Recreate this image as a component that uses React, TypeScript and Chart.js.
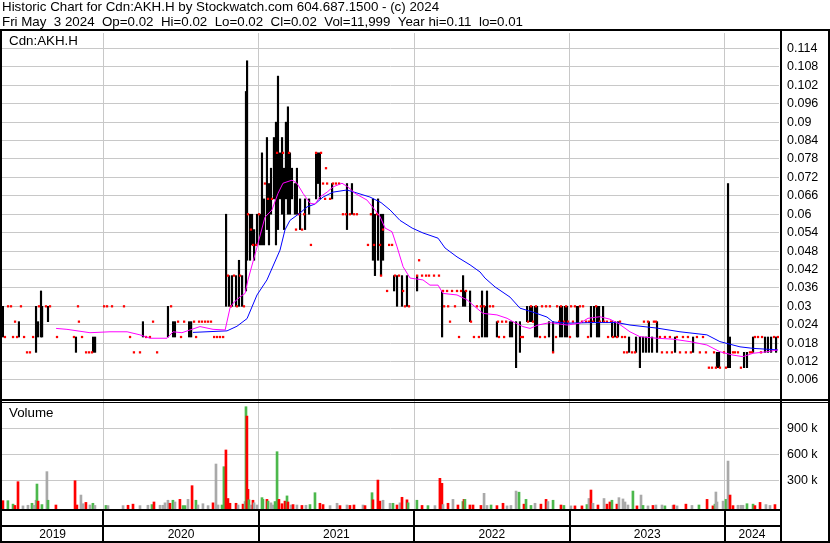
import React, { useEffect, useRef } from 'react';
import { Chart, registerables } from 'chart.js';

Chart.register(...registerables);

const FONT = '"Liberation Sans", Arial, Helvetica, sans-serif';

const headerLines = [
  'Historic Chart for Cdn:AKH.H by Stockwatch.com 604.687.1500 - (c) 2024',
  'Fri May  3 2024  Op=0.02  Hi=0.02  Lo=0.02  Cl=0.02  Vol=11,999  Year hi=0.11  lo=0.01',
];
const symbolLabel = 'Cdn:AKH.H';
const volumeLabel = 'Volume';

// x axis in decimal years
const xStart = 2019.348;
const xEnd = 2024.348;
const yearStarts = [2020, 2021, 2022, 2023, 2024];
const yearLabels = ['2019', '2020', '2021', '2022', '2023', '2024'];

const priceTicks = [0.006, 0.012, 0.018, 0.024, 0.03, 0.036, 0.042, 0.048, 0.054, 0.06, 0.066, 0.072, 0.078, 0.084, 0.09, 0.096, 0.102, 0.108, 0.114];
const priceMin = -0.00085;
const priceMax = 0.11905;
const volumeTicks = [300000, 600000, 900000];
const volumeMin = -31000;
const volumeMax = 1215000;

// [date, high, low]
const priceBars: [number, number, number][] = [
  [2019.354, 0.03, 0.02], [2019.457, 0.025, 0.02], [2019.567, 0.03, 0.015], [2019.58, 0.025, 0.02],
  [2019.599, 0.035, 0.02], [2019.606, 0.03, 0.02], [2019.644, 0.03, 0.025], [2019.824, 0.02, 0.015],
  [2019.934, 0.02, 0.015], [2019.947, 0.02, 0.015], [2020.255, 0.025, 0.02], [2020.416, 0.03, 0.02],
  [2020.449, 0.025, 0.02], [2020.461, 0.025, 0.02], [2020.552, 0.025, 0.02], [2020.565, 0.025, 0.02],
  [2020.79, 0.06, 0.03], [2020.809, 0.04, 0.03], [2020.828, 0.04, 0.03], [2020.854, 0.04, 0.03],
  [2020.873, 0.045, 0.03], [2020.893, 0.04, 0.03], [2020.918, 0.1, 0.035], [2020.925, 0.11, 0.045],
  [2020.944, 0.06, 0.045], [2020.957, 0.06, 0.05], [2020.97, 0.055, 0.045], [2020.989, 0.06, 0.05],
  [2021.008, 0.06, 0.05], [2021.021, 0.08, 0.05], [2021.034, 0.065, 0.05], [2021.053, 0.085, 0.055],
  [2021.066, 0.07, 0.05], [2021.079, 0.075, 0.06], [2021.098, 0.085, 0.065], [2021.111, 0.09, 0.05],
  [2021.124, 0.105, 0.055], [2021.137, 0.08, 0.065], [2021.15, 0.085, 0.06], [2021.163, 0.075, 0.055],
  [2021.175, 0.09, 0.065], [2021.188, 0.095, 0.06], [2021.201, 0.08, 0.06], [2021.214, 0.075, 0.065],
  [2021.233, 0.07, 0.06], [2021.246, 0.075, 0.06], [2021.266, 0.065, 0.055], [2021.298, 0.065, 0.055],
  [2021.324, 0.065, 0.06], [2021.369, 0.08, 0.065], [2021.382, 0.08, 0.07], [2021.394, 0.08, 0.065],
  [2021.472, 0.07, 0.065], [2021.568, 0.07, 0.055], [2021.6, 0.07, 0.06], [2021.735, 0.065, 0.045],
  [2021.748, 0.06, 0.04], [2021.768, 0.065, 0.045], [2021.787, 0.06, 0.04], [2021.8, 0.06, 0.045],
  [2021.871, 0.04, 0.035], [2021.89, 0.04, 0.03], [2021.922, 0.04, 0.03], [2021.954, 0.04, 0.03],
  [2022.019, 0.04, 0.035], [2022.18, 0.035, 0.02], [2022.315, 0.04, 0.03], [2022.328, 0.035, 0.03],
  [2022.36, 0.035, 0.025], [2022.437, 0.035, 0.02], [2022.456, 0.03, 0.02], [2022.469, 0.035, 0.02],
  [2022.533, 0.025, 0.02], [2022.617, 0.025, 0.02], [2022.63, 0.025, 0.02], [2022.656, 0.025, 0.01],
  [2022.681, 0.025, 0.015], [2022.727, 0.03, 0.025], [2022.746, 0.03, 0.025], [2022.759, 0.03, 0.025],
  [2022.778, 0.03, 0.02], [2022.791, 0.03, 0.02], [2022.868, 0.025, 0.02], [2022.894, 0.025, 0.015],
  [2022.939, 0.03, 0.02], [2022.952, 0.03, 0.02], [2022.971, 0.03, 0.02], [2022.984, 0.03, 0.02],
  [2023.048, 0.03, 0.02], [2023.055, 0.03, 0.02], [2023.138, 0.03, 0.02], [2023.158, 0.03, 0.025],
  [2023.177, 0.03, 0.02], [2023.19, 0.03, 0.02], [2023.216, 0.03, 0.025], [2023.274, 0.025, 0.02],
  [2023.293, 0.025, 0.02], [2023.312, 0.025, 0.02], [2023.383, 0.02, 0.015], [2023.428, 0.02, 0.015],
  [2023.453, 0.02, 0.01], [2023.473, 0.02, 0.015], [2023.492, 0.02, 0.015], [2023.511, 0.025, 0.015],
  [2023.531, 0.02, 0.015], [2023.563, 0.025, 0.015], [2023.679, 0.02, 0.015], [2023.795, 0.02, 0.015],
  [2023.949, 0.015, 0.01], [2023.962, 0.015, 0.01], [2024.02, 0.07, 0.01], [2024.032, 0.02, 0.01],
  [2024.123, 0.015, 0.01], [2024.142, 0.015, 0.01], [2024.181, 0.02, 0.015], [2024.258, 0.02, 0.015],
  [2024.277, 0.02, 0.015], [2024.297, 0.02, 0.015], [2024.329, 0.02, 0.015],
];

// [date, price] days with no range
const flatDays: [number, number][] = [
  [2019.367, 0.02], [2019.387, 0.03], [2019.406, 0.03], [2019.419, 0.02], [2019.432, 0.025], [2019.445, 0.02],
  [2019.47, 0.03], [2019.49, 0.02], [2019.509, 0.015], [2019.528, 0.015], [2019.548, 0.02], [2019.586, 0.03],
  [2019.631, 0.03], [2019.657, 0.03], [2019.702, 0.02], [2019.811, 0.02], [2019.837, 0.03], [2019.843, 0.025],
  [2019.863, 0.02], [2019.889, 0.015], [2019.908, 0.015], [2019.927, 0.015],
  [2020.005, 0.03], [2020.024, 0.03], [2020.056, 0.03], [2020.133, 0.03], [2020.172, 0.02], [2020.197, 0.015],
  [2020.236, 0.015], [2020.275, 0.02], [2020.3, 0.02], [2020.32, 0.025], [2020.346, 0.015], [2020.436, 0.03],
  [2020.481, 0.025], [2020.5, 0.02], [2020.52, 0.025], [2020.584, 0.025], [2020.597, 0.02], [2020.616, 0.025],
  [2020.635, 0.025], [2020.655, 0.025], [2020.674, 0.025], [2020.693, 0.025], [2020.713, 0.02], [2020.732, 0.02],
  [2020.751, 0.02], [2020.771, 0.02],
  [2020.802, 0.04], [2020.821, 0.03], [2020.841, 0.04], [2020.86, 0.03], [2020.88, 0.04], [2020.905, 0.03],
  [2020.931, 0.06], [2020.95, 0.055], [2020.963, 0.05], [2020.983, 0.05], [2021.002, 0.06], [2021.04, 0.07],
  [2021.06, 0.065], [2021.085, 0.065], [2021.118, 0.08], [2021.156, 0.08], [2021.195, 0.08], [2021.24, 0.055],
  [2021.259, 0.06], [2021.279, 0.055], [2021.292, 0.06], [2021.336, 0.05], [2021.369, 0.08], [2021.401, 0.08],
  [2021.414, 0.07], [2021.427, 0.065], [2021.433, 0.075], [2021.44, 0.07], [2021.459, 0.065], [2021.478, 0.07],
  [2021.497, 0.07], [2021.517, 0.07], [2021.542, 0.06], [2021.561, 0.06], [2021.587, 0.06], [2021.613, 0.06],
  [2021.632, 0.06], [2021.703, 0.05], [2021.722, 0.06], [2021.742, 0.05], [2021.761, 0.06], [2021.781, 0.05],
  [2021.787, 0.04], [2021.8, 0.055], [2021.826, 0.035], [2021.839, 0.05], [2021.858, 0.05], [2021.877, 0.04],
  [2021.903, 0.04], [2021.929, 0.035], [2021.941, 0.03], [2021.967, 0.03],
  [2022.019, 0.04], [2022.032, 0.045], [2022.051, 0.04], [2022.077, 0.04], [2022.096, 0.04], [2022.128, 0.04],
  [2022.16, 0.04], [2022.186, 0.035], [2022.193, 0.03], [2022.212, 0.035], [2022.219, 0.03], [2022.231, 0.025],
  [2022.244, 0.035], [2022.263, 0.03], [2022.276, 0.035], [2022.289, 0.02], [2022.302, 0.035], [2022.334, 0.035],
  [2022.366, 0.025], [2022.385, 0.02], [2022.404, 0.03], [2022.417, 0.02], [2022.43, 0.03], [2022.45, 0.03],
  [2022.488, 0.03], [2022.508, 0.03], [2022.54, 0.025], [2022.546, 0.02], [2022.566, 0.025], [2022.579, 0.02],
  [2022.592, 0.025], [2022.688, 0.02], [2022.7, 0.02], [2022.733, 0.025], [2022.752, 0.03], [2022.765, 0.025],
  [2022.784, 0.03], [2022.81, 0.02], [2022.823, 0.03], [2022.842, 0.02], [2022.849, 0.03], [2022.874, 0.03],
  [2022.894, 0.015], [2022.913, 0.02], [2022.92, 0.03], [2022.933, 0.025], [2022.945, 0.03], [2022.965, 0.025],
  [2022.978, 0.03], [2022.99, 0.025],
  [2023.003, 0.02], [2023.01, 0.03], [2023.022, 0.025], [2023.035, 0.03], [2023.067, 0.03], [2023.08, 0.025],
  [2023.087, 0.03], [2023.106, 0.025], [2023.119, 0.02], [2023.125, 0.025], [2023.151, 0.025], [2023.171, 0.03],
  [2023.196, 0.025], [2023.222, 0.025], [2023.241, 0.025], [2023.248, 0.02], [2023.267, 0.025], [2023.28, 0.02],
  [2023.306, 0.02], [2023.325, 0.025], [2023.338, 0.02], [2023.351, 0.015], [2023.357, 0.02], [2023.37, 0.015],
  [2023.402, 0.015], [2023.421, 0.015], [2023.479, 0.025], [2023.505, 0.025], [2023.543, 0.025], [2023.556, 0.025],
  [2023.582, 0.02], [2023.595, 0.015], [2023.614, 0.02], [2023.627, 0.015], [2023.646, 0.02], [2023.659, 0.015],
  [2023.691, 0.02], [2023.711, 0.015], [2023.73, 0.02], [2023.749, 0.015], [2023.762, 0.02], [2023.781, 0.015],
  [2023.82, 0.02], [2023.839, 0.015], [2023.859, 0.02], [2023.878, 0.015], [2023.897, 0.01], [2023.917, 0.01],
  [2023.93, 0.015], [2023.942, 0.01], [2023.968, 0.01], [2023.994, 0.015],
  [2024.007, 0.01], [2024.052, 0.015], [2024.064, 0.015], [2024.084, 0.015], [2024.103, 0.01], [2024.161, 0.015],
  [2024.174, 0.015], [2024.193, 0.02], [2024.213, 0.02], [2024.232, 0.015], [2024.239, 0.02], [2024.316, 0.02],
  [2024.341, 0.02],
];

// short moving average (magenta)
const shortMA: [number, number][] = [
  [2019.696, 0.0228], [2019.766, 0.0225], [2019.914, 0.0214], [2020.043, 0.0217], [2020.153, 0.0217],
  [2020.236, 0.0207], [2020.3, 0.0196], [2020.41, 0.0196], [2020.449, 0.0217], [2020.506, 0.0214],
  [2020.558, 0.0223], [2020.622, 0.0234], [2020.706, 0.0225], [2020.784, 0.0223], [2020.815, 0.0294],
  [2020.835, 0.031], [2020.88, 0.0331], [2020.912, 0.0342], [2020.931, 0.0386], [2020.989, 0.0493],
  [2021.04, 0.059], [2021.085, 0.0614], [2021.124, 0.0668], [2021.156, 0.0701], [2021.214, 0.0711],
  [2021.246, 0.0701], [2021.285, 0.0668], [2021.33, 0.0636], [2021.362, 0.0633], [2021.394, 0.0656],
  [2021.44, 0.0672], [2021.478, 0.0689], [2021.536, 0.0701], [2021.574, 0.0689], [2021.62, 0.0668],
  [2021.697, 0.0646], [2021.748, 0.0614], [2021.781, 0.0592], [2021.813, 0.0555], [2021.858, 0.0543],
  [2021.89, 0.0494], [2021.929, 0.0429], [2021.974, 0.0392], [2022.057, 0.0386], [2022.102, 0.0369],
  [2022.154, 0.0369], [2022.186, 0.0342], [2022.276, 0.0337], [2022.341, 0.0321], [2022.379, 0.0304],
  [2022.443, 0.0277], [2022.533, 0.0272], [2022.598, 0.0261], [2022.636, 0.025], [2022.7, 0.0234],
  [2022.746, 0.0228], [2022.797, 0.0239], [2022.874, 0.0247], [2022.984, 0.0239], [2023.067, 0.0245],
  [2023.119, 0.0261], [2023.196, 0.0266], [2023.26, 0.0258], [2023.312, 0.0245], [2023.389, 0.0217],
  [2023.453, 0.0201], [2023.563, 0.0196], [2023.666, 0.0193], [2023.775, 0.0185], [2023.884, 0.0174],
  [2023.968, 0.0152], [2024.052, 0.0141], [2024.116, 0.0136], [2024.181, 0.0147], [2024.27, 0.0152],
  [2024.341, 0.0158],
];

// long moving average (blue)
const longMA: [number, number][] = [
  [2020.577, 0.0215], [2020.796, 0.022], [2020.86, 0.0235], [2020.925, 0.026], [2020.989, 0.0337],
  [2021.053, 0.0386], [2021.137, 0.0483], [2021.169, 0.0549], [2021.201, 0.058], [2021.266, 0.0604],
  [2021.311, 0.0624], [2021.362, 0.0633], [2021.414, 0.0656], [2021.478, 0.0672], [2021.568, 0.0679],
  [2021.633, 0.0669], [2021.716, 0.0656], [2021.787, 0.0638], [2021.845, 0.0614], [2021.909, 0.058],
  [2021.987, 0.0555], [2022.057, 0.0539], [2022.154, 0.0522], [2022.199, 0.049], [2022.276, 0.0461],
  [2022.36, 0.0435], [2022.424, 0.0412], [2022.456, 0.0392], [2022.521, 0.0363], [2022.617, 0.033],
  [2022.681, 0.0294], [2022.765, 0.0281], [2022.855, 0.0265], [2022.894, 0.0249], [2022.984, 0.0245],
  [2023.151, 0.0247], [2023.306, 0.0247], [2023.389, 0.0239], [2023.563, 0.0229], [2023.711, 0.0217],
  [2023.884, 0.0207], [2023.968, 0.0185], [2024.097, 0.0168], [2024.181, 0.0163], [2024.341, 0.0158],
];

// [date, volume (thousands), direction: g = up, r = down, n = unchanged]
const volumes: [number, number, string][] = [
  [2019.354, 65, 'r'], [2019.386, 65, 'g'], [2019.419, 25, 'g'], [2019.431, 10, 'r'], [2019.451, 284, 'r'],
  [2019.483, 5, 'n'], [2019.515, 12, 'n'], [2019.541, 35, 'g'], [2019.554, 12, 'n'], [2019.567, 70, 'n'],
  [2019.573, 257, 'g'], [2019.58, 60, 'r'], [2019.605, 20, 'g'], [2019.637, 400, 'n'], [2019.644, 70, 'g'],
  [2019.695, 15, 'r'], [2019.818, 295, 'r'], [2019.83, 15, 'r'], [2019.856, 130, 'n'], [2019.869, 30, 'n'],
  [2019.888, 45, 'r'], [2019.914, 15, 'n'], [2019.933, 35, 'g'], [2019.946, 10, 'n'],
  [2020.017, 10, 'g'], [2020.03, 8, 'n'], [2020.127, 8, 'n'], [2020.159, 12, 'r'], [2020.191, 25, 'r'],
  [2020.236, 8, 'n'], [2020.287, 12, 'n'], [2020.313, 20, 'g'], [2020.326, 50, 'r'], [2020.365, 12, 'n'],
  [2020.384, 12, 'n'], [2020.397, 40, 'n'], [2020.416, 70, 'n'], [2020.429, 35, 'r'], [2020.448, 70, 'g'],
  [2020.461, 50, 'n'], [2020.493, 80, 'r'], [2020.513, 8, 'g'], [2020.526, 8, 'g'], [2020.545, 80, 'n'],
  [2020.571, 238, 'r'], [2020.596, 70, 'g'], [2020.609, 15, 'n'], [2020.641, 30, 'n'], [2020.674, 8, 'n'],
  [2020.706, 40, 'r'], [2020.725, 488, 'n'], [2020.738, 15, 'n'], [2020.764, 15, 'g'], [2020.776, 457, 'g'],
  [2020.789, 650, 'r'], [2020.802, 90, 'r'], [2020.815, 35, 'r'], [2020.854, 35, 'r'], [2020.867, 15, 'n'],
  [2020.899, 25, 'r'], [2020.912, 55, 'n'], [2020.918, 1149, 'g'], [2020.924, 1041, 'r'], [2020.931, 196, 'r'],
  [2020.937, 75, 'g'], [2020.95, 15, 'n'], [2020.963, 70, 'r'], [2020.97, 40, 'n'], [2020.989, 15, 'n'],
  [2021.021, 100, 'g'], [2021.027, 80, 'g'], [2021.053, 80, 'r'], [2021.06, 60, 'g'], [2021.079, 40, 'n'],
  [2021.092, 15, 'n'], [2021.105, 55, 'g'], [2021.118, 630, 'g'], [2021.13, 80, 'r'], [2021.15, 30, 'r'],
  [2021.169, 60, 'r'], [2021.182, 120, 'g'], [2021.188, 50, 'r'], [2021.208, 15, 'n'], [2021.221, 20, 'r'],
  [2021.246, 15, 'n'], [2021.278, 10, 'r'], [2021.304, 12, 'n'], [2021.33, 20, 'g'], [2021.362, 157, 'g'],
  [2021.394, 35, 'r'], [2021.414, 20, 'r'], [2021.459, 8, 'n'], [2021.504, 35, 'n'], [2021.523, 8, 'r'],
  [2021.568, 15, 'n'], [2021.587, 10, 'r'], [2021.613, 15, 'r'], [2021.671, 15, 'n'], [2021.684, 8, 'r'],
  [2021.729, 157, 'g'], [2021.735, 75, 'r'], [2021.767, 303, 'r'], [2021.78, 60, 'r'], [2021.8, 70, 'n'],
  [2021.845, 35, 'n'], [2021.864, 35, 'g'], [2021.89, 15, 'r'], [2021.909, 40, 'n'], [2021.922, 104, 'r'],
  [2021.954, 75, 'r'], [2021.961, 40, 'g'],
  [2022.018, 70, 'g'], [2022.051, 10, 'r'], [2022.089, 8, 'g'], [2022.134, 8, 'n'], [2022.166, 323, 'r'],
  [2022.179, 265, 'r'], [2022.186, 20, 'n'], [2022.218, 35, 'r'], [2022.25, 80, 'n'], [2022.282, 15, 'r'],
  [2022.314, 55, 'g'], [2022.321, 80, 'r'], [2022.327, 80, 'g'], [2022.359, 15, 'r'], [2022.379, 15, 'r'],
  [2022.43, 10, 'r'], [2022.45, 150, 'n'], [2022.469, 10, 'n'], [2022.495, 15, 'g'], [2022.533, 8, 'r'],
  [2022.572, 35, 'r'], [2022.598, 5, 'n'], [2022.623, 10, 'n'], [2022.656, 176, 'n'], [2022.675, 163, 'g'],
  [2022.707, 25, 'r'], [2022.72, 80, 'g'], [2022.752, 10, 'g'], [2022.778, 35, 'n'], [2022.816, 25, 'r'],
  [2022.849, 80, 'r'], [2022.861, 55, 'n'], [2022.894, 70, 'g'], [2022.945, 15, 'r'], [2022.964, 10, 'g'],
  [2023.009, 5, 'n'], [2023.035, 5, 'r'], [2023.08, 5, 'r'], [2023.112, 20, 'g'], [2023.125, 90, 'n'],
  [2023.138, 188, 'r'], [2023.151, 35, 'n'], [2023.183, 15, 'r'], [2023.222, 90, 'n'], [2023.241, 25, 'r'],
  [2023.26, 50, 'r'], [2023.273, 70, 'g'], [2023.305, 25, 'r'], [2023.318, 100, 'n'], [2023.344, 85, 'n'],
  [2023.357, 50, 'n'], [2023.376, 15, 'n'], [2023.408, 176, 'g'], [2023.434, 5, 'r'], [2023.46, 130, 'n'],
  [2023.473, 10, 'g'], [2023.505, 5, 'n'], [2023.537, 10, 'r'], [2023.556, 15, 'n'], [2023.595, 15, 'n'],
  [2023.614, 5, 'g'], [2023.666, 10, 'n'], [2023.672, 15, 'r'], [2023.692, 5, 'n'], [2023.749, 25, 'r'],
  [2023.788, 10, 'n'], [2023.833, 15, 'g'], [2023.885, 80, 'r'], [2023.923, 5, 'r'], [2023.936, 25, 'g'],
  [2023.942, 165, 'n'], [2023.949, 50, 'n'], [2023.988, 60, 'n'],
  [2024.007, 80, 'g'], [2024.02, 522, 'n'], [2024.033, 130, 'r'], [2024.052, 8, 'r'], [2024.084, 12, 'n'],
  [2024.103, 12, 'n'], [2024.116, 12, 'n'], [2024.142, 30, 'g'], [2024.181, 25, 'g'], [2024.193, 8, 'r'],
  [2024.226, 45, 'r'], [2024.264, 20, 'n'], [2024.29, 10, 'n'], [2024.322, 20, 'r'],
];

const volumeColors: Record<string, string> = { g: '#4cb84c', r: '#ff0000', n: '#a9a9a9' };
const GRID = '#c8c8c8';
const LABEL_SIZE = 13.33;

const framePlugin = {
  id: 'frame',
  afterDraw(chart: any) {
    const { ctx, chartArea, scales } = chart;
    const W = chart.width;
    const H = chart.height;
    const top = chartArea.top;
    const bottom = chartArea.bottom;
    const right = chartArea.right;
    const paneBottom = scales.yP.bottom;
    ctx.save();
    ctx.fillStyle = '#000';
    ctx.fillRect(0, top - 4, W, 2);
    ctx.fillRect(0, top - 4, 2, H - top + 4);
    ctx.fillRect(W - 2, top - 4, 2, H - top + 4);
    ctx.fillRect(right + 1, top - 4, 2, H - top + 4);
    ctx.fillRect(0, paneBottom - 2, W, 2);
    ctx.fillRect(0, paneBottom + 1, W, 1);
    ctx.fillRect(0, bottom, right + 3, 2);
    ctx.fillRect(0, bottom + 16, right + 3, 2);
    ctx.fillRect(0, H - 2, W, 2);
    yearStarts.forEach((yr) => {
      const px = scales.x.getPixelForValue(yr);
      ctx.fillRect(Math.round(px) - 1, bottom, 2, H - bottom);
    });
    ctx.font = LABEL_SIZE + 'px ' + FONT;
    ctx.textBaseline = 'middle';
    ctx.textAlign = 'left';
    ctx.fillText(symbolLabel, chartArea.left + 7, top + 8);
    ctx.fillText(volumeLabel, chartArea.left + 7, paneBottom + 12);
    ctx.restore();
  },
};

export default function App() {
  const ref = useRef<HTMLCanvasElement>(null);

  useEffect(() => {
    const canvas = ref.current;
    if (!canvas) return;
    const edges = [xStart, ...yearStarts, xEnd];
    const yearMids = yearLabels.map((_, i) => (edges[i] + edges[i + 1]) / 2);
    const axisFont = { family: FONT, size: 12.5, weight: 'normal' as const };
    const yearFont = { family: FONT, size: 12, weight: 'normal' as const };

    const chart = new Chart(canvas, {
      type: 'bar',
      data: {
        datasets: [
          {
            type: 'line',
            label: 'short MA',
            data: shortMA.map(([x, y]) => ({ x, y })),
            borderColor: '#ff00ff',
            borderWidth: 1,
            pointRadius: 0,
            tension: 0,
            xAxisID: 'x',
            yAxisID: 'yP',
            order: 0,
          },
          {
            type: 'line',
            label: 'long MA',
            data: longMA.map(([x, y]) => ({ x, y })),
            borderColor: '#0000ff',
            borderWidth: 1,
            pointRadius: 0,
            tension: 0,
            xAxisID: 'x',
            yAxisID: 'yP',
            order: 1,
          },
          {
            type: 'line',
            label: 'flat',
            data: flatDays.map(([x, y]) => ({ x, y })),
            showLine: false,
            pointStyle: 'rect',
            pointRadius: 1.6,
            pointBackgroundColor: '#ff0000',
            pointBorderWidth: 0,
            xAxisID: 'x',
            yAxisID: 'yP',
            order: 2,
          },
          {
            type: 'bar',
            label: 'range',
            data: priceBars.map(([x, hi, lo]) => ({ x, y: [lo, hi] })),
            backgroundColor: '#000000',
            barThickness: 1.5,
            grouped: false,
            xAxisID: 'x',
            yAxisID: 'yP',
            order: 3,
          },
          {
            type: 'bar',
            label: 'volume',
            data: volumes.map(([x, v]) => ({ x, y: v * 1000 })),
            backgroundColor: volumes.map((v) => volumeColors[v[2]]),
            barThickness: 2,
            grouped: false,
            base: volumeMin,
            xAxisID: 'x',
            yAxisID: 'yV',
            order: 4,
          },
        ] as any,
      },
      options: {
        responsive: false,
        animation: false,
        devicePixelRatio: 1,
        events: [],
        layout: { padding: { left: 2, right: 0, top: 0, bottom: 0 }, autoPadding: false },
        plugins: {
          legend: { display: false },
          tooltip: { enabled: false },
          title: {
            display: true,
            text: headerLines,
            align: 'start',
            color: '#000',
            font: { family: FONT, size: LABEL_SIZE, lineHeight: '15px', weight: 'normal' },
            padding: { top: 0, bottom: 3 },
          },
        },
        scales: {
          x: {
            type: 'linear',
            position: 'bottom',
            min: xStart,
            max: xEnd,
            offset: false,
            afterBuildTicks: (s: any) => { s.ticks = yearStarts.map((v) => ({ value: v })); },
            afterFit: (s: any) => { s.height = 0; },
            grid: { color: GRID, lineWidth: 1, drawTicks: false, offset: false },
            border: { display: false },
            ticks: { display: false },
          },
          xYear: {
            type: 'linear',
            position: 'bottom',
            min: xStart,
            max: xEnd,
            offset: false,
            afterBuildTicks: (s: any) => { s.ticks = yearMids.map((v) => ({ value: v })); },
            afterFit: (s: any) => { s.height = 34; },
            grid: { display: false, drawTicks: false, offset: false },
            border: { display: false },
            ticks: {
              autoSkip: false,
              maxRotation: 0,
              padding: 18,
              color: '#000',
              font: yearFont,
              callback: (_v: any, i: number) => yearLabels[i],
            },
          },
          yP: {
            type: 'linear',
            position: 'right',
            stack: 'panes',
            stackWeight: 368,
            min: priceMin,
            max: priceMax,
            afterBuildTicks: (s: any) => { s.ticks = priceTicks.map((v) => ({ value: v })); },
            afterFit: (s: any) => { s.width = 51; },
            grid: { color: GRID, lineWidth: 1, drawTicks: false },
            border: { display: false },
            ticks: {
              autoSkip: false,
              padding: 8,
              color: '#000',
              font: axisFont,
              callback: (v: any) => Number(v).toFixed(3).replace(/0+$/, ''),
            },
          },
          yV: {
            type: 'linear',
            position: 'right',
            stack: 'panes',
            stackWeight: 108,
            min: volumeMin,
            max: volumeMax,
            afterBuildTicks: (s: any) => { s.ticks = volumeTicks.map((v) => ({ value: v })); },
            afterFit: (s: any) => { s.width = 51; },
            grid: { color: GRID, lineWidth: 1, drawTicks: false },
            border: { display: false },
            ticks: {
              autoSkip: false,
              padding: 8,
              color: '#000',
              font: axisFont,
              callback: (v: any) => Math.round(Number(v) / 1000) + ' k',
            },
          },
        },
      } as any,
      plugins: [framePlugin],
    });
    return () => chart.destroy();
  }, []);

  return (
    <div style={{ position: 'absolute', left: 0, top: 0, width: 830, height: 543, background: '#fff' }}>
      <canvas ref={ref} width={830} height={543} style={{ display: 'block', width: 830, height: 543 }} />
    </div>
  );
}
